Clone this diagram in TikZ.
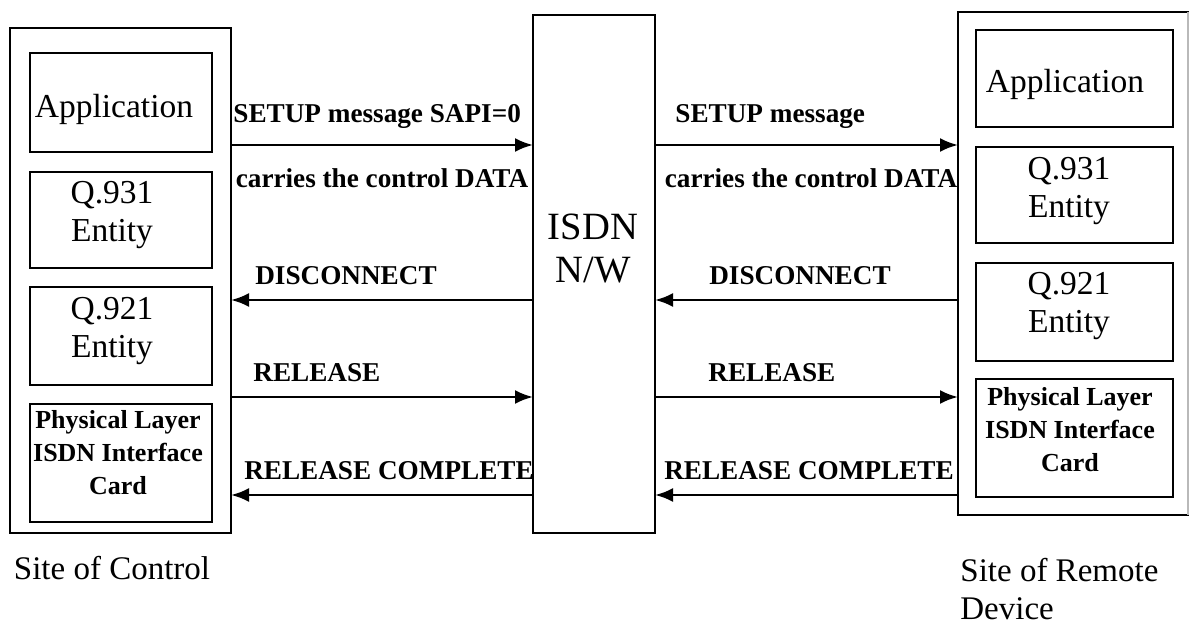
\documentclass[tikz,border=0pt]{standalone}
\usepackage{fontspec}
\setmainfont{Liberation Serif}
\usetikzlibrary{arrows.meta}

\begin{document}
\begin{tikzpicture}[
  x=0.5pt, y=-0.5pt,
  box/.style={draw, line width=1.3pt, inner sep=0pt, outer sep=0pt},
  inbox/.style={box, minimum width=91pt},
  rinbox/.style={box, minimum width=98.5pt},
  layertext/.style={font=\fontsize{16.75}{19}\selectfont, inner sep=0pt, anchor=base, align=center},
  phystext/.style={font=\bfseries\fontsize{13}{16.5}\selectfont, inner sep=0pt, anchor=base, align=center},
  msg/.style={line width=1.3pt, -{Latex[length=9pt,width=7pt]}},
  lbl/.style={font=\bfseries\fontsize{13.6}{16}\selectfont, inner sep=0pt, anchor=base},
  site/.style={font=\fontsize{16.5}{19}\selectfont, inner sep=0pt, align=left}
]
\useasboundingbox (0,0) rectangle (1191,625);

% Site of control
\node[box, minimum width=110.5pt, minimum height=252.5pt] (L) at (120.5,280.5) {};
\node[inbox, minimum height=49.5pt] (LApp)  at (121,102.5) {};
\node[inbox, minimum height=48pt]   (LQ931) at (121,220) {};
\node[inbox, minimum height=49pt]   (LQ921) at (121,336) {};
\node[inbox, minimum height=59pt]   (LPhy)  at (121,463) {};
\node[layertext] (LAppT)  at (114,118) {Application};
\node[layertext] (LQ931T) at (112,242) {Q.931\\Entity};
\node[layertext] (LQ921T) at (112,358) {Q.921\\Entity};
\node[phystext]  (LPhyT)  at (118,495) {Physical Layer\\ISDN Interface\\Card};
\node[site, anchor=base] (LSite) at (112,580) {Site of Control};

% ISDN network
\node[box, minimum width=61pt, minimum height=259pt] (N) at (594,274) {};
\node[font=\fontsize{19.3}{21.5}\selectfont, inner sep=0pt, anchor=base, align=center] (NT) at (593,283) {ISDN\\N/W};

% Site of remote device
\node[box, minimum width=115pt, minimum height=251.5pt] (R) at (1073,263.5) {};
\draw[gray!55, line width=1.3pt] (R.north east) -- (R.south east);
\node[rinbox, minimum height=48.5pt] (RApp)  at (1074.5,78.5) {};
\node[rinbox, minimum height=48pt]   (RQ931) at (1074.5,195) {};
\node[rinbox, minimum height=49pt]   (RQ921) at (1074.5,312) {};
\node[rinbox, minimum height=59pt]   (RPhy)  at (1074.5,438) {};
\node[layertext] (RAppT)  at (1065,93) {Application};
\node[layertext] (RQ931T) at (1069,218) {Q.931\\Entity};
\node[layertext] (RQ921T) at (1069,333) {Q.921\\Entity};
\node[phystext]  (RPhyT)  at (1070,472) {Physical Layer\\ISDN Interface\\Card};
\node[site, anchor=base west] (RSite) at (960,620) {Site of Remote\\Device};

% message rows
\coordinate (ySetup) at (0,145);
\coordinate (yDisc) at (0,300);
\coordinate (yRel) at (0,397);
\coordinate (yRelC) at (0,495);

\draw[msg] (L.east |- ySetup) -- (N.west |- ySetup);
\draw[msg] (N.east |- ySetup) -- (R.west |- ySetup);
\draw[msg] (N.west |- yDisc) -- (L.east |- yDisc);
\draw[msg] (R.west |- yDisc) -- (N.east |- yDisc);
\draw[msg] (L.east |- yRel) -- (N.west |- yRel);
\draw[msg] (N.east |- yRel) -- (R.west |- yRel);
\draw[msg] (N.west |- yRelC) -- (L.east |- yRelC);
\draw[msg] (R.west |- yRelC) -- (N.east |- yRelC);

% message labels
\node[lbl, anchor=base west] (t1) at (233,123) {SETUP message SAPI=0};
\node[lbl] (t2) at (382,188) {carries the control DATA};
\node[lbl, anchor=base west] (t3) at (675,123) {SETUP message};
\node[lbl] (t4) at (811,188) {carries the control DATA};
\node[lbl] (t5) at (346,285) {DISCONNECT};
\node[lbl] (t6) at (800,285) {DISCONNECT};
\node[lbl, anchor=base west] (t7) at (253,382) {RELEASE};
\node[lbl, anchor=base west] (t8) at (708,382) {RELEASE};
\node[lbl] (t9) at (389,480) {RELEASE COMPLETE};
\node[lbl] (t10) at (809,480) {RELEASE COMPLETE};
\end{tikzpicture}
\end{document}
